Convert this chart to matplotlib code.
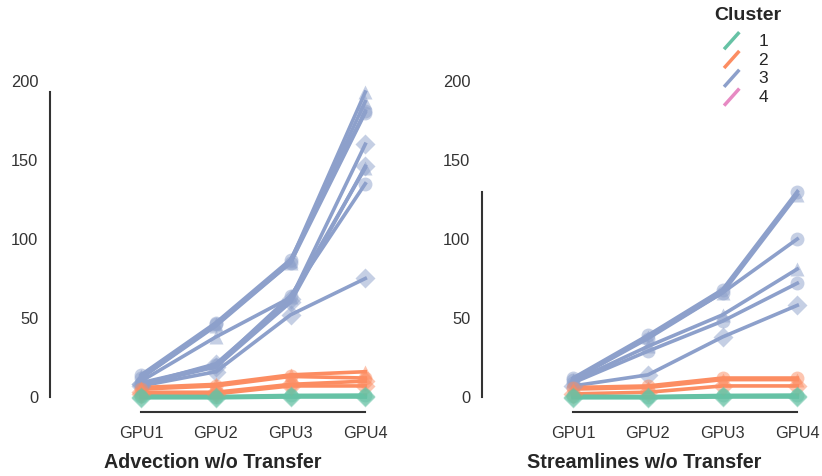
import matplotlib
matplotlib.use("Agg")
import matplotlib.pyplot as plt
from matplotlib.lines import Line2D
from matplotlib.legend_handler import HandlerBase

plt.rcParams['font.family'] = ['Liberation Sans', 'DejaVu Sans']

gpus = ["GPU1", "GPU2", "GPU3", "GPU4"]
clusters = ["1", "2", "3", "4"]
palette = {"1": "#66c2a5", "2": "#fc8d62", "3": "#8da0cb", "4": "#e78ac3"}
shape = {"a": "o", "b": "^", "c": "D"}

# Advection w/o Transfer: (cluster, kind, values)
adv_cluster = ["1", "1", "1", "2", "2", "2", "2",
               "3", "3", "3", "3", "3", "3", "3", "3", "3"]
adv_kind = ["a", "c", "c", "b", "a", "c", "c",
            "a", "b", "b", "a", "b", "c", "a", "c", "c"]
adv_values = [
    [0.5, 0.3, 1.0, 1.2],
    [0.0, 0.0, 0.5, 0.5],
    [-0.5, -0.5, 0.0, 0.0],
    [6, 8, 14, 16],
    [5, 7, 13, 12],
    [3, 3, 8, 10],
    [2, 2, 7, 7],
    [14, 47, 87, 181],
    [13, 46, 86, 193],
    [12, 45, 85, 187],
    [12, 46, 85, 180],
    [10, 38, 63, 145],
    [8, 21, 62, 160],
    [9, 20, 64, 135],
    [7, 16, 52, 75],
    [8, 19, 60, 146],
]

# Streamlines w/o Transfer
str_cluster = ["1", "1", "1", "2", "2", "2",
               "3", "3", "3", "3", "3", "3"]
str_kind = ["a", "c", "c", "a", "b", "c",
            "a", "b", "a", "b", "a", "c"]
str_values = [
    [0.5, 0.3, 1.0, 1.2],
    [0.0, 0.0, 0.5, 0.5],
    [-0.5, -0.5, 0.0, 0.0],
    [6, 7, 12, 12],
    [5, 6, 11, 11],
    [2, 3, 7, 7],
    [12, 39, 68, 130],
    [11, 38, 66, 128],
    [11, 37, 66, 100],
    [10, 32, 52, 81],
    [9, 29, 48, 72],
    [7, 14, 38, 58],
]

titles = ["Advection w/o Transfer", "Streamlines w/o Transfer"]
panels = [(adv_cluster, adv_kind, adv_values), (str_cluster, str_kind, str_values)]


class DiagHandler(HandlerBase):
    def create_artists(self, legend, orig_handle, xdescent, ydescent,
                       width, height, fontsize, trans):
        x0, y0 = -xdescent, -ydescent
        ln = Line2D([x0 + 0.1 * width, x0 + 0.9 * width],
                    [y0 - 0.1 * height, y0 + 1.0 * height],
                    color=orig_handle.get_color(), lw=2.5,
                    solid_capstyle="butt", transform=trans)
        return [ln]


fig = plt.figure(figsize=(8.22, 4.76), dpi=100)
axes = [fig.add_axes([50 / 822, 64 / 476, 325 / 822, 352 / 476]),
        fig.add_axes([482 / 822, 64 / 476, 325 / 822, 352 / 476])]

xs = list(range(len(gpus)))
for ax, title, (cl, kd, vals) in zip(axes, titles, panels):
    order = sorted(range(len(vals)), key=lambda i: -int(cl[i]))
    for i in order:
        c = palette[cl[i]]
        ax.plot(xs, vals[i], color=c, lw=2.6, zorder=2)
        ax.plot(xs, vals[i], ls="none", marker=shape[kd[i]], ms=10,
                color=c, alpha=0.5, mec="none", zorder=3)
    ax.set_xlim(-1.22, 3.13)
    ax.set_ylim(-9.5, 213.3)
    ax.set_xticks(xs)
    ax.set_xticklabels(gpus)
    ax.set_yticks([0, 50, 100, 150, 200])
    ax.tick_params(length=0, labelsize=11.8, colors="#333333")
    ax.tick_params(axis="x", pad=10)
    ax.tick_params(axis="y", pad=8.5)
    for s in ["top", "right"]:
        ax.spines[s].set_visible(False)
    for s in ["left", "bottom"]:
        ax.spines[s].set_color("#333333")
        ax.spines[s].set_linewidth(1.5)
    ymax = max(max(v) for v in vals)
    ax.spines["left"].set_bounds(0, ymax)
    ax.spines["bottom"].set_bounds(0, 3)
    ax.set_xlabel(title, fontsize=14.2, fontweight="bold", color="#262626",
                  labelpad=9)
    ax.patch.set_visible(False)

fig.text(748 / 822, 1 - 15 / 476, "Cluster", fontsize=14, fontweight="bold",
         color="#262626", ha="center", va="center")
handles = [Line2D([], [], color=palette[k]) for k in clusters]
leg = fig.legend(handles, clusters, loc="upper left",
                 bbox_to_anchor=(710 / 822, 1 - 20 / 476), frameon=False,
                 fontsize=12.5,
                 handler_map={Line2D: DiagHandler()},
                 handlelength=1.1, handleheight=1.0, handletextpad=1.0,
                 labelspacing=0.12, borderpad=0.2)
for t in leg.get_texts():
    t.set_color("#262626")

fig.savefig("out.png", dpi=100)
